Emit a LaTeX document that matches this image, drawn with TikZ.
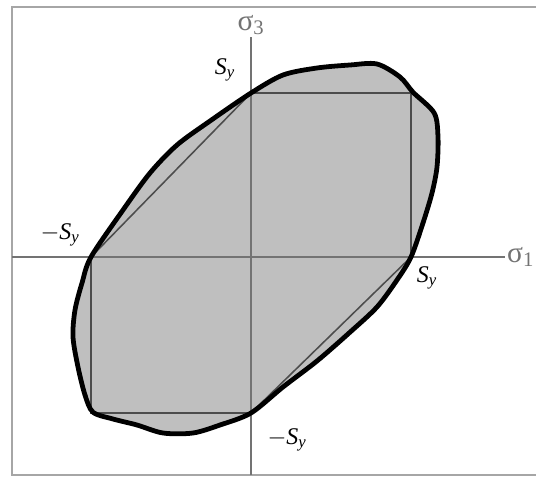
\documentclass[tikz,border=0pt]{standalone}
\usepackage{fontspec}
\setmainfont{Liberation Serif}
\usetikzlibrary{calc}

\newcommand{\yieldcurve}{plot[smooth cycle,tension=0.5] coordinates {
  (4,0) (4.3,0.85) (4.525,1.6) (4.65,2.25) (4.675,3.0) (4.58,3.6) (4.05,4.12)
  (3.725,4.5) (3.15,4.825) (2.475,4.8) (1.65,4.725) (0.8,4.55) (0,4.1)
  (-1.025,3.4) (-1.85,2.8) (-2.525,2.1) (-3.2,1.175) (-4,0)
  (-4.225,-0.65) (-4.4,-1.325) (-4.45,-2.0) (-4.325,-2.75) (-4.15,-3.45)
  (-3.95,-3.88) (-3.45,-4.05) (-2.85,-4.2) (-2.2,-4.4) (-1.45,-4.4)
  (-0.775,-4.2) (0,-3.9)
  (0.8,-3.25) (1.65,-2.6) (2.475,-1.88) (3.15,-1.25) (3.65,-0.575)}}

\begin{document}
\begin{tikzpicture}[font=\fontsize{17}{20}\selectfont]
  \clip (-6.275,-5.525) rectangle (7.125,6.425);
  \useasboundingbox (-6.275,-5.525) rectangle (7.125,6.425);
  % frame
  \draw[black!35,line width=1.3pt] (7.6,6.25) -- (-5.975,6.25) -- (-5.975,-5.45) -- (7.6,-5.45);
  % yield region
  \fill[black!25] \yieldcurve;
  \coordinate (A) at (4,0);
  \coordinate (B) at (4,4.1);
  \coordinate (C) at (0,4.1);
  \coordinate (D) at (-4,0);
  \coordinate (E) at (-4,-3.9);
  \coordinate (F) at (0,-3.9);
  \draw[black!70,line width=1.1pt] (A)--(B)--(C)--(D)--(E)--(F)--cycle;
  % axes
  \draw[black!55,line width=1pt] (-5.975,0)--(6.35,0) node[right,inner sep=1pt,font=\fontsize{21}{24}\selectfont]{σ\textsubscript{1}};
  \draw[black!55,line width=1pt] (0,-5.45)--(0,5.5) node[above,inner sep=1pt,font=\fontsize{21}{24}\selectfont]{σ\textsubscript{3}};
  \draw[line width=3.4pt,line join=round] \yieldcurve;
  \node at (-0.65,4.675) {\textit{S}\textsubscript{\textit{y}}};
  \node at (-4.775,0.55) {$-$\textit{S}\textsubscript{\textit{y}}};
  \node at (4.4,-0.525) {\textit{S}\textsubscript{\textit{y}}};
  \node at (0.9,-4.575) {$-$\textit{S}\textsubscript{\textit{y}}};
\end{tikzpicture}
\end{document}
